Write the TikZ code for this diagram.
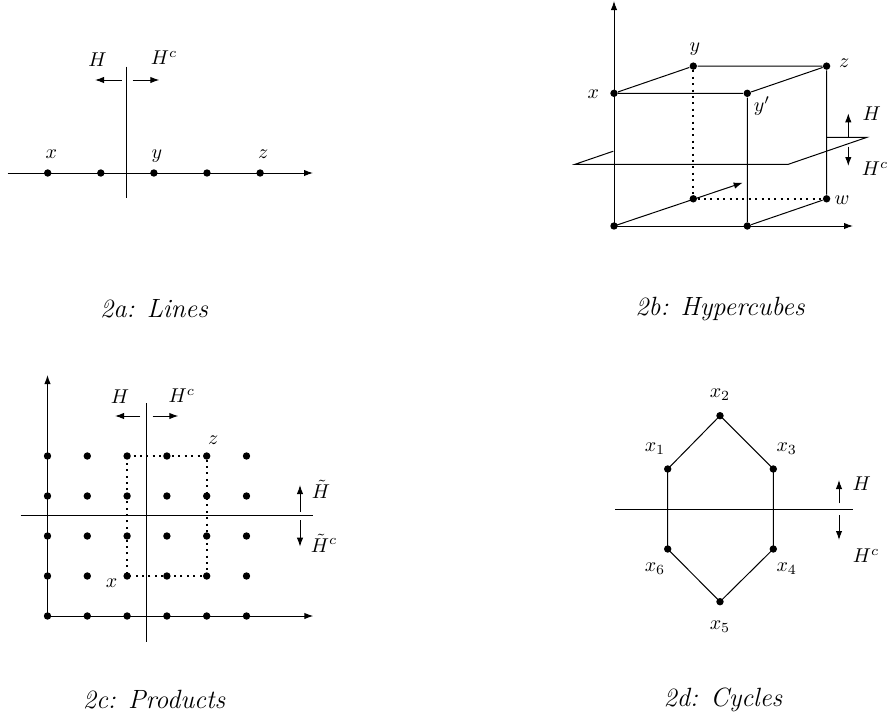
\documentclass[tikz,border=0pt]{standalone}
\usetikzlibrary{arrows.meta}
\begin{document}
\begin{tikzpicture}[x=0.5pt,y=-0.5pt,
  line width=0.5pt,
  dot/.style={circle,fill,inner sep=0pt,minimum size=3.7pt},
  lbl/.style={inner sep=0pt,font=\fontsize{10}{12}\selectfont},
  captxt/.style={inner sep=0pt,font=\fontsize{13.2}{16}\selectfont\itshape},
  arr/.style={-{Latex[length=4.5pt,width=3.2pt]}},
  dotline/.style={line width=1pt,dash pattern=on 1pt off 2.2pt}]
\useasboundingbox (0,0) rectangle (890,718);

% ---------------- 2a: Lines ----------------
\foreach \n/\x in {1/47.7,2/100.8,3/153.9,4/207,5/260.1}
  \node[dot] (a\n) at (\x,173) {};
\coordinate (aL) at (7.5,173);
\coordinate (aR) at (313,173);
\draw[arr] (aL) -- (aR);
\coordinate (aT) at (126.7,66.7);
\coordinate (aB) at (126.7,198.3);
\draw (aT) -- (aB);
\coordinate (aH1) at (121.7,80); \coordinate (aH2) at (95,80);
\coordinate (aC1) at (132.7,80); \coordinate (aC2) at (159.3,80);
\draw[arr] (aH1) -- (aH2);
\draw[arr] (aC1) -- (aC2);
\node[lbl] (aHl) at (97.5,59.3) {$H$};
\node[lbl] (aCl) at (164,57.5) {$H^c$};
\node[lbl] (ax) at (51.3,154) {$x$};
\node[lbl] (ay) at (157,156) {$y$};
\node[lbl] (az) at (263.3,154) {$z$};
\node[captxt] (capa) at (154,309) {2a: Lines};

% ---------------- 2b: Hypercubes ----------------
\node[dot] (bO) at (614,226) {};
\node[dot] (bB) at (747.3,226) {};
\node[dot] (bC) at (693.3,198.8) {};
\node[dot] (bW) at (826.6,198.8) {};
\node[dot] (bX) at (614,93.3) {};
\node[dot] (bYp) at (747.3,93.3) {};
\node[dot] (bY) at (693.3,66.1) {};
\node[dot] (bZ) at (826.6,66.1) {};
\coordinate (bTop) at (614,1);
\coordinate (bRight) at (853,226);
\coordinate (bE) at (742.7,182.7);
\draw[arr] (bO.center) -- (bTop);
\draw[arr] (bO.center) -- (bRight);
\draw[arr] (bO.center) -- (bE);
\draw (bX) -- (bYp) -- (bZ) -- (bY) -- (bX);
\draw (bYp) -- (bB) -- (bW) -- (bZ);
\draw[dotline] (bY) -- (bC) -- (bW);
% hyperplane
\coordinate (p1) at (575,164.3);
\coordinate (p1b) at (613.3,151.2);
\coordinate (p2) at (788.3,164.3);
\coordinate (p3) at (866.7,137.4);
\coordinate (p4) at (826.6,137.4);
\draw (p1b) -- (p1) -- (p2) -- (p3) -- (p4);
\coordinate (bH1) at (848.3,136.7); \coordinate (bH2) at (848.3,113.3);
\coordinate (bC1) at (848.3,146.7); \coordinate (bC2) at (848.3,166);
\draw[arr] (bH1) -- (bH2);
\draw[arr] (bC1) -- (bC2);
\node[lbl] (bHl) at (871.7,113.3) {$H$};
\node[lbl] (bCl) at (875,169) {$H^c$};
\node[lbl] (bxl) at (593.3,94) {$x$};
\node[lbl] (byl) at (695,49) {$y$};
\node[lbl] (bzl) at (844.3,63.3) {$z$};
\node[lbl] (bypl) at (762,106) {$y'$};
\node[lbl] (bwl) at (842,200) {$w$};
\node[captxt] (capb) at (720,309) {2b: Hypercubes};

% ---------------- 2c: Products ----------------
\foreach \i/\x in {1/47.5,2/87.3,3/127.1,4/166.9,5/206.7,6/246.5}
  \foreach \j/\y in {1/456,2/496,3/536,4/576,5/616}
    \node[dot] (c\i\j) at (\x,\y) {};
\coordinate (cTop) at (47.5,375);
\coordinate (cRight) at (313.3,616);
\draw[arr] (c15.center) -- (cTop);
\draw[arr] (c15.center) -- (cRight);
\coordinate (cvT) at (146.7,403.3); \coordinate (cvB) at (146.7,641.7);
\coordinate (chL) at (20.7,515.7); \coordinate (chR) at (313.3,515.7);
\draw (cvT) -- (cvB);
\draw (chL) -- (chR);
\draw[dotline] (c31.center) -- (c51.center) -- (c54.center) -- (c34.center) -- cycle;
\coordinate (cH1) at (140,416); \coordinate (cH2) at (115,416);
\coordinate (cC1) at (152.7,416); \coordinate (cC2) at (178.3,416);
\draw[arr] (cH1) -- (cH2);
\draw[arr] (cC1) -- (cC2);
\node[lbl] (cHl) at (120,396.7) {$H$};
\node[lbl] (cCl) at (181.7,396) {$H^c$};
\node[lbl] (czl) at (213.3,440) {$z$};
\node[lbl] (cxl) at (111.7,583.3) {$x$};
\coordinate (cU1) at (300,511.7); \coordinate (cU2) at (300,485);
\coordinate (cD1) at (300,520); \coordinate (cD2) at (300,546.7);
\draw[arr] (cU1) -- (cU2);
\draw[arr] (cD1) -- (cD2);
\node[lbl] (cTHl) at (321,489) {$\tilde H$};
\node[lbl] (cTCl) at (324,543) {$\tilde H^c$};
\node[captxt] (capc) at (154,700) {2c: Products};

% ---------------- 2d: Cycles ----------------
\node[dot] (x2) at (720,415.7) {};
\node[dot] (x1) at (667.7,469) {};
\node[dot] (x3) at (773.3,469) {};
\node[dot] (x6) at (667.7,549) {};
\node[dot] (x4) at (773.3,549) {};
\node[dot] (x5) at (720,601.7) {};
\draw (x1.center) -- (x2.center) -- (x3.center) -- (x4.center) -- (x5.center) -- (x6.center) -- cycle;
\coordinate (dL) at (615,509); \coordinate (dR) at (853.3,509);
\draw (dL) -- (dR);
\coordinate (dU1) at (839,503.3); \coordinate (dU2) at (839,480);
\coordinate (dD1) at (839,515); \coordinate (dD2) at (839,540);
\draw[arr] (dU1) -- (dU2);
\draw[arr] (dD1) -- (dD2);
\node[lbl] (dHl) at (861.7,483.3) {$H$};
\node[lbl] (dCl) at (866,556) {$H^c$};
\node[lbl] (x2l) at (720,395) {$x_2$};
\node[lbl] (x1l) at (655,448.3) {$x_1$};
\node[lbl] (x3l) at (786.7,448.3) {$x_3$};
\node[lbl] (x6l) at (655,568.3) {$x_6$};
\node[lbl] (x4l) at (786.7,568.3) {$x_4$};
\node[lbl] (x5l) at (720,627) {$x_5$};
\node[captxt] (capd) at (723,700) {2d: Cycles};
\end{tikzpicture}
\end{document}
